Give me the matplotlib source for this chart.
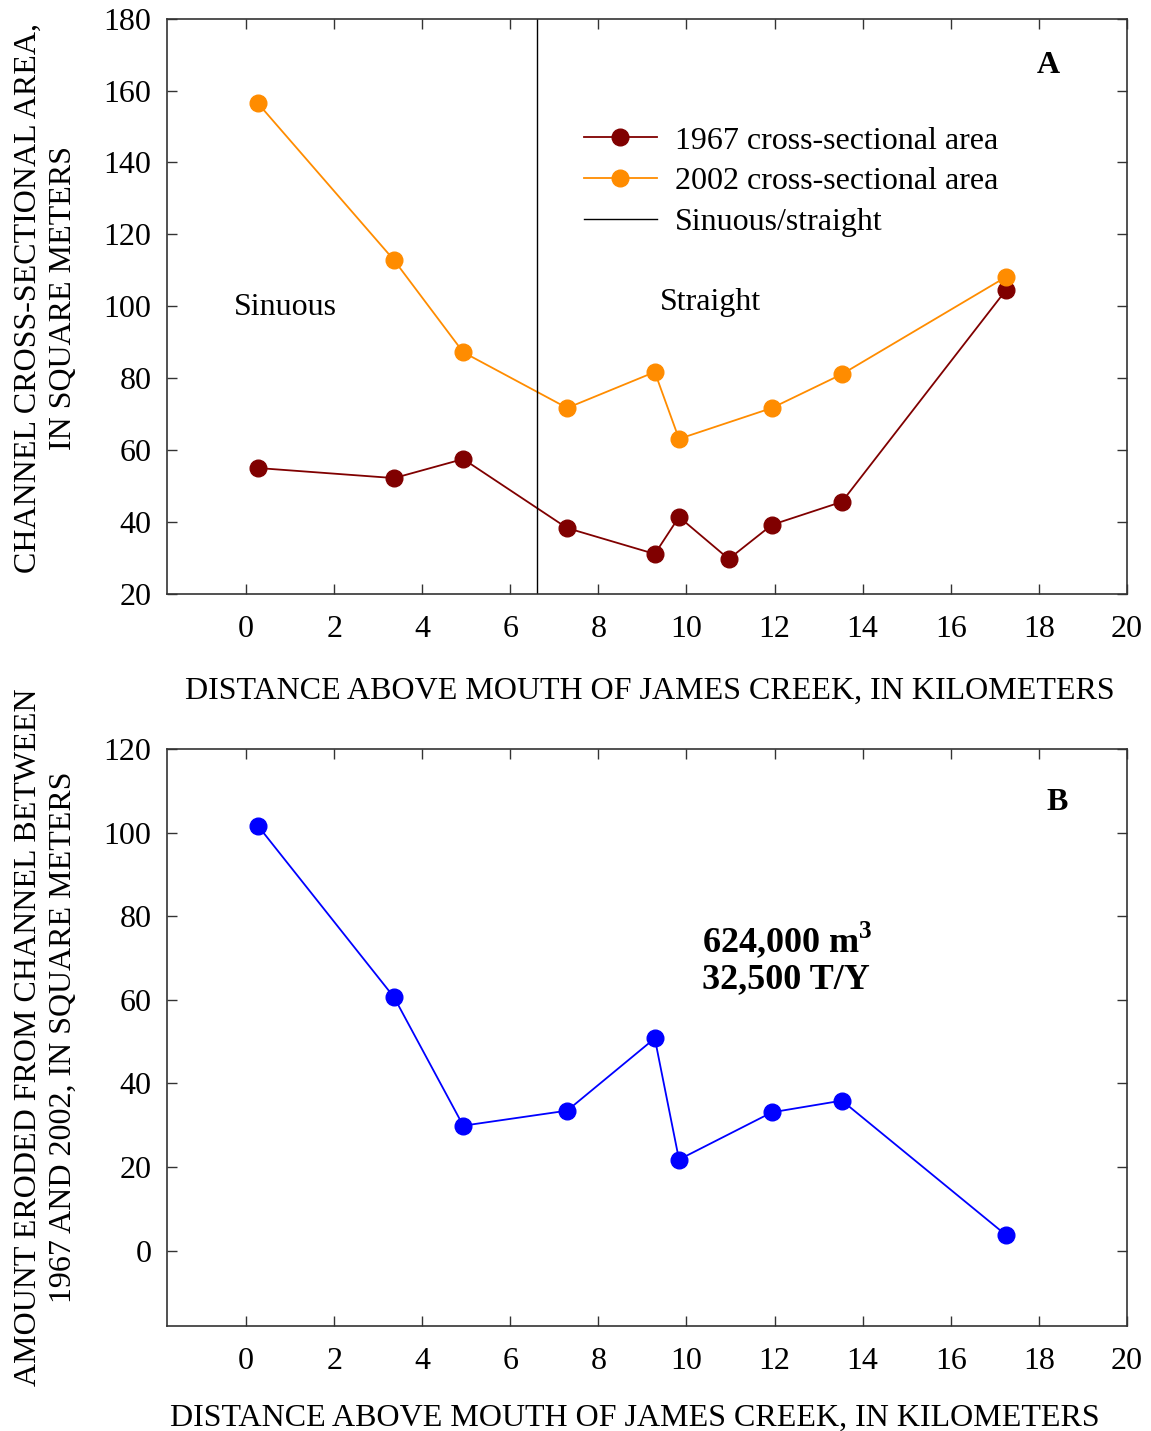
"""
plot.py — James Creek channel cross-sectional area (A) and amount eroded (B).
"""

import matplotlib
matplotlib.use("Agg")
import matplotlib.pyplot as plt

# ── Data ──────────────────────────────────────────────────────────────────────

dist_1967 = [0.27, 3.36, 4.93, 7.29, 9.28, 9.83, 10.96, 11.94, 13.53, 17.25]
area_1967 = [55.0, 52.2, 57.5, 38.3, 31.1, 41.4, 29.7, 39.2, 45.6, 104.4]

dist_2002 = [0.27, 3.36, 4.93, 7.29, 9.28, 9.83, 11.94, 13.53, 17.25]
area_2002 = [156.4, 112.8, 87.2, 71.7, 81.7, 63.1, 71.7, 81.1, 108.1]

dist_eroded = [0.27, 3.36, 4.93, 7.29, 9.28, 9.83, 11.94, 13.53, 17.25]
eroded = [101.6, 60.6, 29.9, 33.5, 50.8, 21.8, 33.1, 35.9, 3.8]

sinuous_straight_x = 6.6

x_ticks = [0, 2, 4, 6, 8, 10, 12, 14, 16, 18, 20]
y_ticks_a = [20, 40, 60, 80, 100, 120, 140, 160, 180]
y_ticks_b = [0, 20, 40, 60, 80, 100, 120]

COLORS = {
    "c1967": "#800000",
    "c2002": "#ff8c00",
    "eroded": "#0000ff",
    "spine": "#333333",
}

plt.rcParams["font.family"] = ["Liberation Serif", "DejaVu Serif"]
plt.rcParams["mathtext.fontset"] = "custom"
plt.rcParams["mathtext.rm"] = "Liberation Serif"
plt.rcParams["mathtext.bf"] = "Liberation Serif:bold"

FS = 23
XLABEL = "DISTANCE ABOVE MOUTH OF JAMES CREEK, IN KILOMETERS"


def style_axes(ax, yticks):
    ax.set_xlim(-1.8, 20)
    ax.set_xticks(x_ticks)
    ax.set_yticks(yticks)
    ax.tick_params(direction="in", length=7, width=1, top=True, right=True,
                   labelsize=FS, color=COLORS["spine"])
    ax.tick_params(axis="x", pad=15)
    ax.tick_params(axis="y", pad=11)
    for spine in ax.spines.values():
        spine.set_edgecolor(COLORS["spine"])
        spine.set_linewidth(1.2)


fig = plt.figure(figsize=(11.51, 14.31), dpi=100)
ax_a = fig.add_axes([0.145, 0.585, 0.834, 0.402])
ax_b = fig.add_axes([0.145, 0.0734, 0.834, 0.4032])

# ── Panel A ──────────────────────────────────────────────────────────────────
ax_a.plot(dist_1967, area_1967, "-o", color=COLORS["c1967"], lw=1.3, ms=12,
          label="1967 cross-sectional area")
ax_a.plot(dist_2002, area_2002, "-o", color=COLORS["c2002"], lw=1.3, ms=12,
          label="2002 cross-sectional area")
ax_a.axvline(sinuous_straight_x, color="black", lw=1,
             label="Sinuous/straight")
ax_a.set_ylim(20, 180)
style_axes(ax_a, y_ticks_a)

ax_a.legend(loc="upper left", bbox_to_anchor=(0.434, 0.813), frameon=False,
            fontsize=FS, handlelength=2.3, handletextpad=0.56,
            labelspacing=0.36, borderaxespad=0, borderpad=0)
ax_a.text(0.885, 99.7, "Sinuous", fontsize=FS, ha="center", va="center")
ax_a.text(10.55, 101.1, "Straight", fontsize=FS, ha="center", va="center")
ax_a.text(0.918, 0.918, "A", transform=ax_a.transAxes, fontsize=FS,
          fontweight="bold", ha="center", va="center")

ax_a.set_xlabel(XLABEL, fontsize=FS)
ax_a.xaxis.set_label_coords(0.503, -0.144)
ax_a.set_ylabel("CHANNEL CROSS-SECTIONAL AREA,\nIN SQUARE METERS",
                fontsize=FS, linespacing=1.25)
ax_a.yaxis.set_label_coords(-0.126, 0.515)
ax_a.yaxis.label.set_va("center")

# ── Panel B ──────────────────────────────────────────────────────────────────
ax_b.plot(dist_eroded, eroded, "-o", color=COLORS["eroded"], lw=1.3, ms=12)
ax_b.set_ylim(-18, 120)
style_axes(ax_b, y_ticks_b)

ax_b.text(0.927, 0.908, "B", transform=ax_b.transAxes, fontsize=FS,
          fontweight="bold", ha="center", va="center")
ax_b.text(10.35, 70.1, "624,000 m$^{\\mathbf{3}}$\n32,500 T/Y", fontsize=26,
          fontweight="bold", ha="left", va="center", linespacing=1.15)

ax_b.set_xlabel(XLABEL, fontsize=FS)
ax_b.xaxis.set_label_coords(0.487, -0.135)
ax_b.set_ylabel("AMOUNT ERODED FROM CHANNEL BETWEEN\n1967 AND 2002, IN SQUARE METERS",
                fontsize=FS, linespacing=1.25)
ax_b.yaxis.set_label_coords(-0.126, 0.5)
ax_b.yaxis.label.set_va("center")

fig.savefig("out.png", dpi=100, facecolor="white")
